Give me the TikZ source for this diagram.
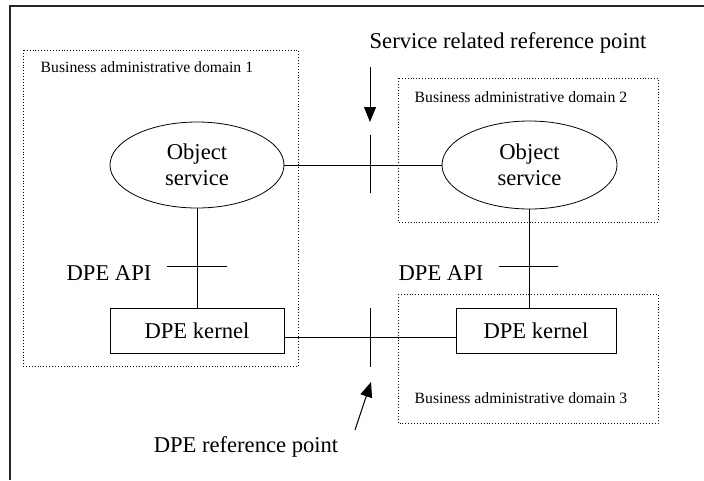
\documentclass[tikz,border=0pt]{standalone}
\usepackage{fontspec}
\setmainfont{Liberation Serif}
\usetikzlibrary{shapes.geometric,arrows.meta}

\tikzset{
    bigtext/.style={font=\fontsize{22.6}{26}\selectfont, align=center},
    smalltext/.style={font=\fontsize{15.7}{18}\selectfont, anchor=west},
    domainbox/.style={dotted, line width=0.9pt},
    objsvc/.style={draw, ellipse, inner sep=0pt, bigtext},
    kernelbox/.style={draw, rectangle, inner sep=0pt, minimum height=45, bigtext},
    tick/.style={line width=0.9pt},
    refarrow/.style={line width=1pt, -{Triangle[length=15pt,width=12pt]}}
}

\begin{document}
\begin{tikzpicture}[x=1pt, y=-1pt, line width=0.8pt]
    \useasboundingbox (0,0) rectangle (704,480);
    % Outer frame (cut off at right and bottom)
    \draw[line width=1.5pt, black!85] (10,480) -- (10,6) -- (704,6);

    % Administrative domains
    \draw[domainbox] (23,50) rectangle (298,366);
    \draw[domainbox] (398,78) rectangle (658,222);
    \draw[domainbox] (398,294) rectangle (658,423);
    \node[smalltext] (dom1) at (37,67) {Business administrative domain 1};
    \node[smalltext] (dom2) at (411,97) {Business administrative domain 2};
    \node[smalltext] (dom3) at (411,398) {Business administrative domain 3};

    % Object services and kernels
    \node[objsvc, minimum width=174, minimum height=86] (os1) at (197,165) {Object\\service};
    \node[objsvc, minimum width=175, minimum height=88] (os2) at (529.5,165) {Object\\service};
    \node[kernelbox, minimum width=174] (k1) at (197,330.5) {DPE kernel};
    \node[kernelbox, minimum width=160] (k2) at (536,330.5) {DPE kernel};

    % Connections
    \draw (os1.east) -- (os2.west);
    \draw (os1.south) -- (k1.north);
    \draw (os2.south) -- (os2.south |- k2.north);
    \draw ([yshift=-6.5pt]k1.east) -- ([yshift=-6.5pt]k2.west);

    % Reference point ticks
    \draw[tick] (370,135) -- (370,193);
    \draw[tick] (370,308) -- (370,367);
    \foreach \xa/\xb in {167/227, 499/558}
    {
        \draw[tick] (\xa,266) -- (\xb,266);
    }
    \node[bigtext] (api1) at (109,273) {DPE API};
    \node[bigtext] (api2) at (441,273) {DPE API};

    % Reference point labels
    \node[bigtext] (srp) at (508,43) {Service related reference point};
    \node[bigtext] (drp) at (246,447) {DPE reference point};
    \coordinate (srptip) at (370,122);
    \coordinate (drptip) at (371,382);
    \draw[refarrow] (srp.south -| srptip) ++(0,-10pt) -- (srptip);
    \draw[refarrow] (355,430) -- (drptip);
\end{tikzpicture}
\end{document}
